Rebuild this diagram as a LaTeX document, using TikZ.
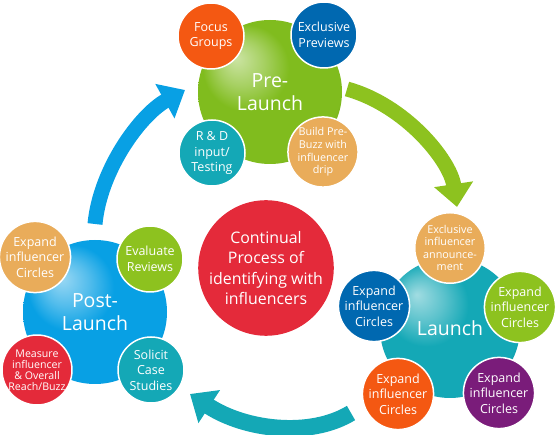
\documentclass[tikz,border=0pt]{standalone}
\usepackage{fontspec}
\setmainfont{Open Sans}
\usetikzlibrary{arrows.meta}
\definecolor{cgreen}{RGB}{141,194,31}
\definecolor{cpregreen}{RGB}{128,188,30}
\definecolor{corange}{RGB}{244,88,18}
\definecolor{cblue}{RGB}{0,104,176}
\definecolor{cteal}{RGB}{20,168,182}
\definecolor{ctan}{RGB}{233,172,90}
\definecolor{cred}{RGB}{228,42,58}
\definecolor{cpurple}{RGB}{122,28,122}
\definecolor{csky}{RGB}{8,160,228}
% glossy fills for the three phases
\pgfdeclareradialshading{glossgreen}{\pgfpoint{-12bp}{12bp}}{color(0bp)=(cpregreen!40!white); color(8bp)=(cpregreen!70!white); color(15bp)=(cpregreen); color(30bp)=(cpregreen); color(42bp)=(cpregreen!45!black); color(50bp)=(cpregreen!45!black)}
\pgfdeclareradialshading{glossteal}{\pgfpoint{-12bp}{12bp}}{color(0bp)=(cteal!40!white); color(8bp)=(cteal!70!white); color(15bp)=(cteal); color(30bp)=(cteal); color(42bp)=(cteal!55!black); color(50bp)=(cteal!55!black)}
\pgfdeclareradialshading{glossblue}{\pgfpoint{-12bp}{12bp}}{color(0bp)=(csky!40!white); color(8bp)=(csky!70!white); color(15bp)=(csky); color(30bp)=(csky); color(42bp)=(csky!60!black); color(50bp)=(csky!60!black)}
\tikzset{
  phase/.style={circle, minimum size=144pt, inner sep=0pt, text=white, align=center,
    font=\fontsize{19.5}{23}\selectfont},
  task/.style={circle, draw=white, line width=1.5pt, minimum size=66pt, inner sep=0pt,
    text=white, align=center, font=\fontsize{12.5}{15.5}\selectfont},
  smalltext/.style={font=\fontsize{10.8}{12.6}\selectfont},
  flow/.style={line width=15pt, -{Triangle[width=38pt,length=23pt]}}
}
\begin{document}
\begin{tikzpicture}[x=1pt, y=-1pt]
\useasboundingbox (0,0) rectangle (557,435);
% arrows from phase to phase
\coordinate (pre out) at (347,89);
\coordinate (launch in) at (457,207);
\coordinate (launch out) at (351,413);
\coordinate (post in) at (190,394);
\coordinate (post out) at (95,224);
\coordinate (pre in) at (185,90);
\draw[flow, cgreen] (pre out) .. controls (405,105) and (450,160) .. (launch in);
\draw[flow, cteal, line width=16.5pt] (launch out) .. controls (310,438) and (245,430) .. (post in);
\draw[flow, csky] (post out) .. controls (100,170) and (140,115) .. (pre in);
% pre-launch
\node[phase, shading=glossgreen] (pre) at (270,92) {Pre-\\Launch};
\node[task, fill=corange] (focus) at (211,36) {Focus\\Groups};
\node[task, fill=cblue] (previews) at (324,35) {Exclusive\\Previews};
\node[task, fill=cteal] (rnd) at (212,153) {R \& D\\input/\\Testing};
\node[task, fill=ctan, smalltext] (buzz) at (323,152) {Build Pre-\\Buzz with\\influencer\\drip};
% launch
\node[phase, minimum size=140pt, shading=glossteal] (launch) at (450,328) {Launch};
\node[task, fill=ctan, smalltext] (announce) at (450,248) {Exclusive\\influencer\\announce-\\ment};
\node[task, fill=cblue] (expand a) at (374,306) {Expand\\influencer\\Circles};
\node[task, fill=cgreen] (expand b) at (520,307) {Expand\\influencer\\Circles};
\node[task, fill=corange] (expand c) at (398,394) {Expand\\influencer\\Circles};
\node[task, fill=cpurple] (expand d) at (499,393) {Expand\\influencer\\Circles};
% post-launch
\node[phase, shading=glossblue] (post) at (95,312) {Post-\\Launch};
\node[task, fill=ctan] (expand e) at (35,257) {Expand\\influencer\\Circles};
\node[task, fill=cgreen] (reviews) at (150,259) {Evaluate\\Reviews};
\node[task, fill=cred, font=\fontsize{10.6}{11}\selectfont] (measure) at (37,370) {Measure\\influencer\\\& Overall\\Reach/Buzz};
\node[task, fill=cteal] (solicit) at (151,370) {Solicit\\Case\\Studies};
% centre
\node[circle, fill=cred, minimum size=135pt, inner sep=0pt, text=white, align=center,
  font=\fontsize{15.9}{20.5}\selectfont] (process) at (266,268)
  {Continual\\Process of\\identifying with\\influencers};
\end{tikzpicture}
\end{document}
